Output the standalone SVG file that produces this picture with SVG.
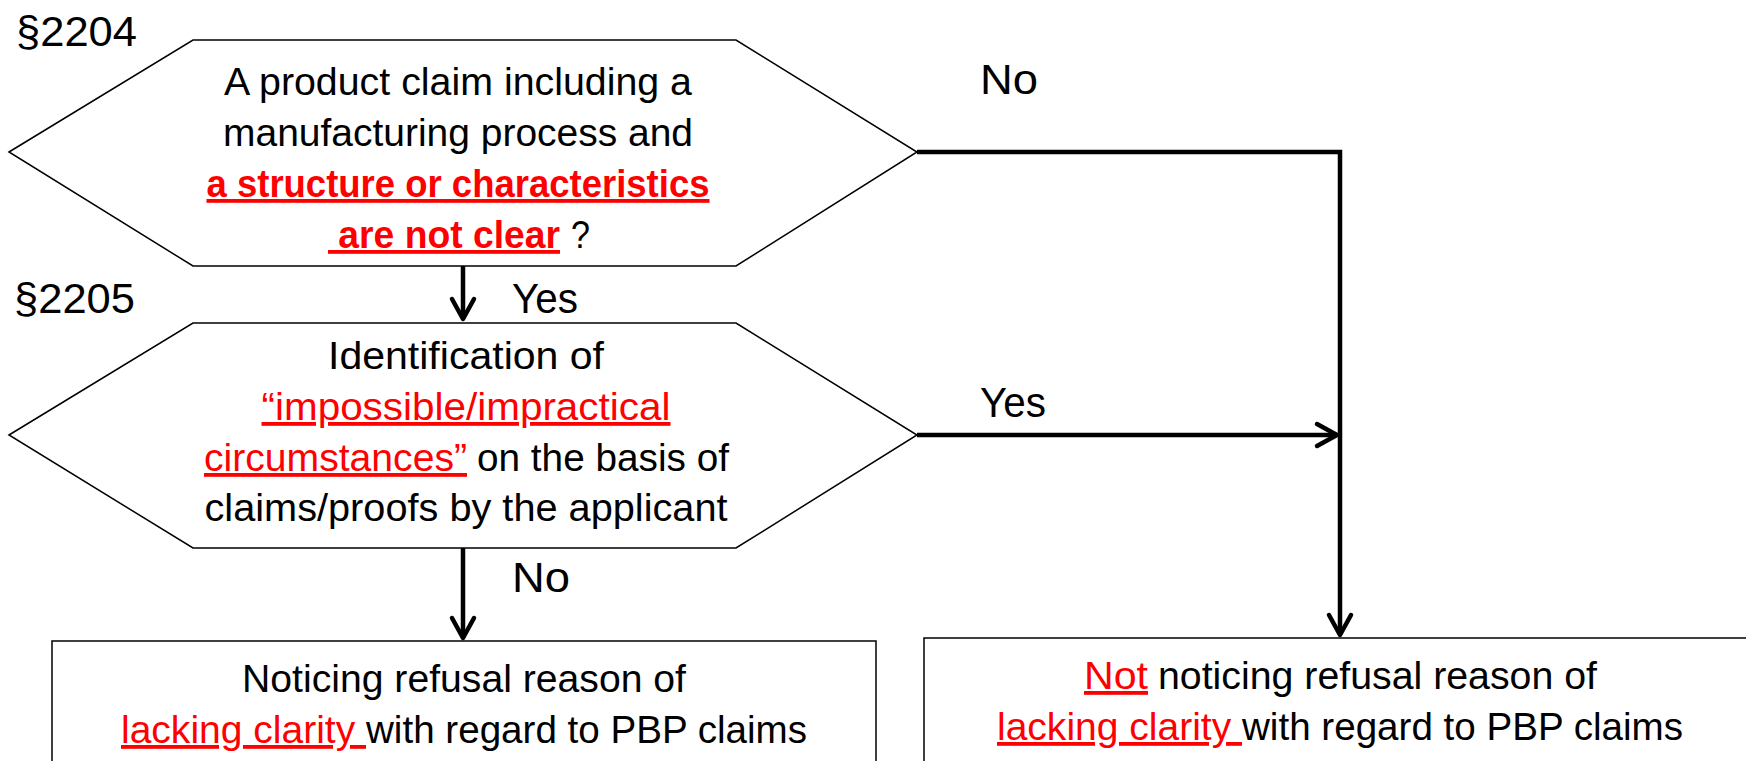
<svg xmlns="http://www.w3.org/2000/svg" width="1746" height="761" viewBox="0 0 1746 761">
<style>
.shape{fill:#fff;stroke:#000;stroke-width:1.5}
.t{font-family:"Liberation Sans",Arial,sans-serif;font-size:38px;fill:#000}
.r{fill:#ff0000;text-decoration:underline}
.b{font-weight:bold}
.lbl{font-family:"Liberation Sans",Arial,sans-serif;font-size:43px;fill:#000}
.conn{fill:none;stroke:#000;stroke-width:4.5}
</style>
<defs>
<marker id="arr" markerUnits="userSpaceOnUse" viewBox="-24 -14 28 28" markerWidth="28" markerHeight="28" refX="0" refY="0" orient="auto" overflow="visible">
<path d="M-20,-11 L0,0 L-20,11" fill="none" stroke="#000" stroke-width="4.5" stroke-linecap="round" stroke-linejoin="round"/>
</marker>
</defs>
<g id="connectors">
<path class="conn" d="M463,266 V319" marker-end="url(#arr)"/>
<path class="conn" d="M463,548 V638" marker-end="url(#arr)"/>
<path class="conn" d="M917,152 H1340 V635" marker-end="url(#arr)"/>
<path class="conn" d="M917,435 H1337" marker-end="url(#arr)"/>
</g>
<g id="decision1">
<polygon class="shape" points="9,152 193,40 736,40 917,152 736,266 193,266"/>
<text class="t" x="458" y="95" text-anchor="middle" textLength="468" lengthAdjust="spacingAndGlyphs">A product claim including a</text>
<text class="t" x="458" y="146" text-anchor="middle" textLength="470" lengthAdjust="spacingAndGlyphs">manufacturing process and</text>
<text class="t r b" x="458" y="197" text-anchor="middle" textLength="503" lengthAdjust="spacingAndGlyphs">a structure or characteristics</text>
<text class="t r b" x="328" y="248" xml:space="preserve" textLength="232" lengthAdjust="spacingAndGlyphs"> are not clear</text>
<text class="t" x="571" y="248" textLength="19" lengthAdjust="spacingAndGlyphs">?</text>
</g>
<g id="decision2">
<polygon class="shape" points="9,435 193,323 736,323 917,435 736,548 193,548"/>
<text class="t" x="466" y="369" text-anchor="middle" textLength="276" lengthAdjust="spacingAndGlyphs">Identification of</text>
<text class="t r" x="466" y="420" text-anchor="middle" textLength="409" lengthAdjust="spacingAndGlyphs">“impossible/impractical</text>
<text class="t r" x="204" y="471" textLength="263" lengthAdjust="spacingAndGlyphs">circumstances”</text>
<text class="t" x="477" y="471" textLength="252" lengthAdjust="spacingAndGlyphs">on the basis of</text>
<text class="t" x="466" y="521" text-anchor="middle" textLength="523" lengthAdjust="spacingAndGlyphs">claims/proofs by the applicant</text>
</g>
<g id="result-notice">
<rect class="shape" x="52" y="641" width="824" height="140"/>
<text class="t" x="464" y="692" text-anchor="middle" textLength="444" lengthAdjust="spacingAndGlyphs">Noticing refusal reason of</text>
<text class="t r" x="121" y="743" xml:space="preserve" textLength="245" lengthAdjust="spacingAndGlyphs">lacking clarity </text>
<text class="t" x="366" y="743" textLength="441" lengthAdjust="spacingAndGlyphs">with regard to PBP claims</text>
</g>
<g id="result-not-notice">
<rect class="shape" x="924" y="638" width="840" height="140"/>
<text class="t r" x="1084" y="689" textLength="64" lengthAdjust="spacingAndGlyphs">Not</text>
<text class="t" x="1158" y="689" textLength="439" lengthAdjust="spacingAndGlyphs">noticing refusal reason of</text>
<text class="t r" x="997" y="740" xml:space="preserve" textLength="245" lengthAdjust="spacingAndGlyphs">lacking clarity </text>
<text class="t" x="1242" y="740" textLength="441" lengthAdjust="spacingAndGlyphs">with regard to PBP claims</text>
</g>
<g id="labels">
<text class="lbl" x="16" y="46" textLength="121" lengthAdjust="spacingAndGlyphs">§2204</text>
<text class="lbl" x="14" y="313" textLength="121" lengthAdjust="spacingAndGlyphs">§2205</text>
<text class="lbl" x="980" y="94" textLength="58" lengthAdjust="spacingAndGlyphs">No</text>
<text class="lbl" x="980" y="417" textLength="66" lengthAdjust="spacingAndGlyphs">Yes</text>
<text class="lbl" x="512" y="313" textLength="66" lengthAdjust="spacingAndGlyphs">Yes</text>
<text class="lbl" x="512" y="592" textLength="58" lengthAdjust="spacingAndGlyphs">No</text>
</g>
</svg>
